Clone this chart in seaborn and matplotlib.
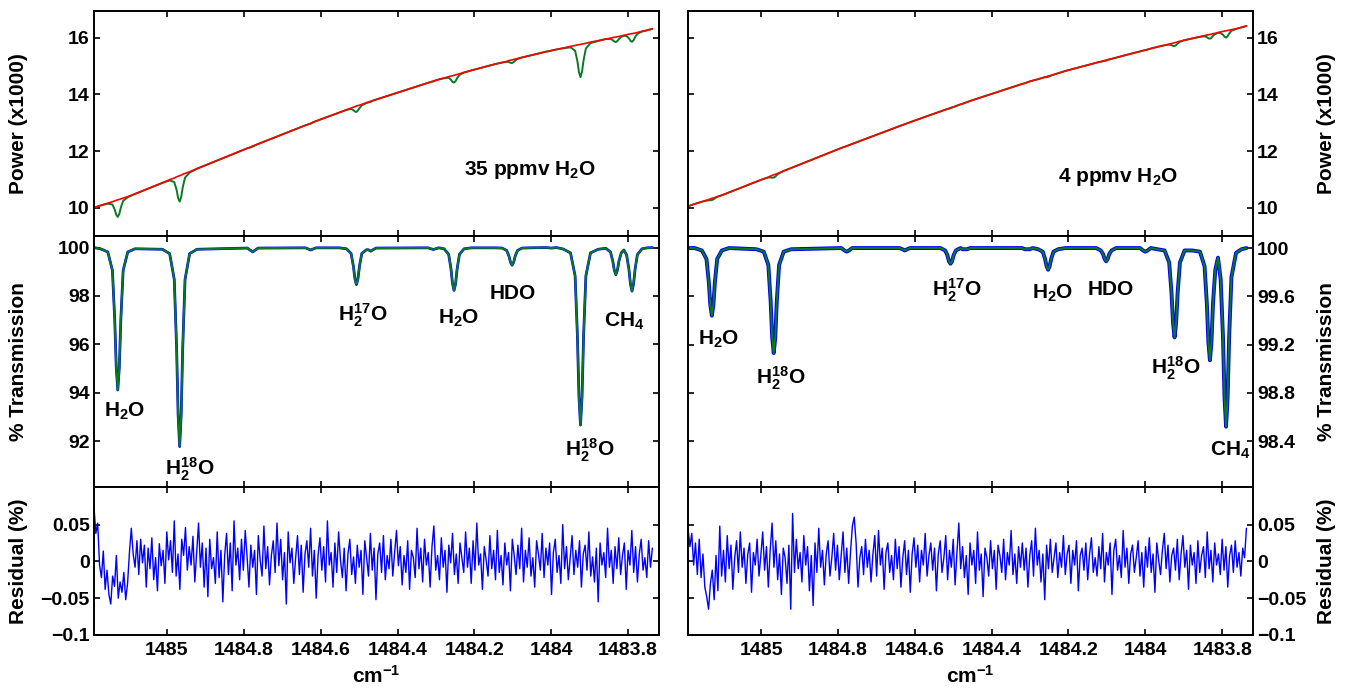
import numpy as np
import pandas as pd
import seaborn as sns
import matplotlib.pyplot as plt

sns.set_theme(style="ticks")
plt.rcParams["font.family"] = ["Liberation Sans", "DejaVu Sans"]
plt.rcParams["font.weight"] = "bold"
plt.rcParams["axes.labelweight"] = "bold"
plt.rcParams["mathtext.default"] = "regular"
for key in ["axes.edgecolor", "xtick.color", "ytick.color", "text.color", "axes.labelcolor"]:
    plt.rcParams[key] = "black"

# wavenumber of the fit points (cm-1), same for both samples
wn = [1485.190, 1485.173,
      1485.154, 1485.142, 1485.136, 1485.132, 1485.128, 1485.124, 1485.120, 1485.114, 1485.102, 1485.083,
      1485.012, 1484.993, 1484.981, 1484.975, 1484.971, 1484.967, 1484.963, 1484.959, 1484.953, 1484.941, 1484.922,
      1484.791, 1484.783, 1484.777, 1484.771, 1484.763,
      1484.640, 1484.632, 1484.626, 1484.620, 1484.612,
      1484.552, 1484.533, 1484.521, 1484.515, 1484.511, 1484.507, 1484.503, 1484.499, 1484.493, 1484.481,
      1484.476, 1484.470, 1484.464, 1484.456,
      1484.321, 1484.313, 1484.307, 1484.301, 1484.293,
      1484.279, 1484.267, 1484.261, 1484.257, 1484.253, 1484.249, 1484.245, 1484.239, 1484.227, 1484.208,
      1484.147, 1484.128, 1484.116, 1484.110, 1484.106, 1484.102, 1484.098, 1484.094, 1484.088, 1484.076, 1484.057,
      1484.014, 1484.006, 1484.000, 1483.994, 1483.986,
      1483.969, 1483.950, 1483.938, 1483.932, 1483.928, 1483.924, 1483.920, 1483.916, 1483.910, 1483.898, 1483.878,
      1483.858, 1483.846, 1483.840, 1483.836, 1483.832, 1483.828, 1483.824, 1483.818,
      1483.811,
      1483.804, 1483.798, 1483.794, 1483.790, 1483.786, 1483.782, 1483.776, 1483.764, 1483.750,
      1483.737]

# fitted transmission (%)
trans_35 = [100.00, 99.95,
            99.82, 99.06, 97.05, 95.05, 94.11, 95.05, 97.05, 99.06, 99.82, 99.95,
            99.93, 99.75, 98.68, 95.88, 93.09, 91.77, 93.09, 95.88, 98.68, 99.75, 99.93,
            99.98, 99.89, 99.82, 99.89, 99.98,
            99.99, 99.94, 99.90, 99.94, 99.99,
            99.99, 99.95, 99.76, 99.24, 98.72, 98.47, 98.72, 99.24, 99.76, 99.91,
            99.91, 99.85, 99.91, 99.98,
            99.99, 99.95, 99.92, 99.95, 99.99,
            99.95, 99.72, 99.12, 98.51, 98.23, 98.51, 99.12, 99.72, 99.95, 99.99,
            99.99, 99.98, 99.88, 99.64, 99.39, 99.27, 99.39, 99.64, 99.88, 99.98, 99.99,
            100.00, 99.99, 99.98, 99.99, 100.00,
            99.94, 99.78, 98.83, 96.33, 93.83, 92.66, 93.83, 96.33, 98.83, 99.78, 99.93,
            99.97, 99.82, 99.44, 99.06, 98.88, 99.06, 99.44, 99.78,
            99.90,
            99.69, 99.10, 98.49, 98.20, 98.49, 99.10, 99.71, 99.95, 99.99,
            100.00]

trans_4 = [100.00, 100.00,
           99.98, 99.91, 99.72, 99.53, 99.44, 99.53, 99.72, 99.91, 99.98, 100.00,
           99.99, 99.97, 99.86, 99.56, 99.26, 99.13, 99.26, 99.56, 99.86, 99.97, 99.99,
           100.00, 99.98, 99.97, 99.98, 100.00,
           100.00, 99.99, 99.98, 99.99, 100.00,
           100.00, 100.00, 99.98, 99.94, 99.89, 99.87, 99.89, 99.94, 99.98, 100.00,
           99.99, 99.99, 99.99, 100.00,
           100.00, 99.99, 99.99, 99.99, 100.00,
           99.99, 99.97, 99.91, 99.85, 99.82, 99.85, 99.91, 99.97, 99.99, 100.00,
           100.00, 100.00, 99.98, 99.95, 99.91, 99.89, 99.91, 99.95, 99.98, 100.00, 100.00,
           100.00, 99.98, 99.97, 99.98, 100.00,
           99.99, 99.98, 99.88, 99.63, 99.38, 99.26, 99.38, 99.63, 99.88, 99.98, 99.98,
           99.97, 99.85, 99.54, 99.22, 99.07, 99.22, 99.54, 99.82,
           99.92,
           99.74, 99.26, 98.76, 98.52, 98.76, 99.26, 99.76, 99.96, 99.99,
           100.00]

# baseline laser power (x1000)
power_35 = [10.00, 10.08,
            10.16, 10.21, 10.24, 10.26, 10.28, 10.29, 10.31, 10.34, 10.39, 10.49,
            10.88, 10.99, 11.05, 11.09, 11.11, 11.13, 11.15, 11.18, 11.21, 11.27, 11.38,
            12.10, 12.14, 12.18, 12.21, 12.25,
            12.91, 12.95, 12.98, 13.02, 13.06,
            13.36, 13.46, 13.52, 13.55, 13.57, 13.59, 13.61, 13.62, 13.65, 13.71,
            13.73, 13.76, 13.79, 13.82,
            14.41, 14.45, 14.47, 14.50, 14.53,
            14.58, 14.63, 14.65, 14.66, 14.68, 14.69, 14.71, 14.73, 14.78, 14.85,
            15.07, 15.13, 15.17, 15.20, 15.21, 15.22, 15.24, 15.25, 15.27, 15.31, 15.37,
            15.51, 15.53, 15.55, 15.57, 15.59,
            15.64, 15.70, 15.73, 15.75, 15.76, 15.77, 15.78, 15.79, 15.81, 15.85, 15.90,
            15.96, 15.99, 16.01, 16.02, 16.03, 16.04, 16.05, 16.07,
            16.09,
            16.11, 16.13, 16.14, 16.15, 16.16, 16.17, 16.19, 16.23, 16.27,
            16.32]

power_4 = [10.05, 10.13,
           10.21, 10.26, 10.29, 10.31, 10.33, 10.34, 10.36, 10.39, 10.44, 10.54,
           10.92, 11.02, 11.08, 11.12, 11.14, 11.16, 11.18, 11.20, 11.23, 11.30, 11.40,
           12.11, 12.15, 12.18, 12.21, 12.25,
           12.88, 12.92, 12.95, 12.98, 13.02,
           13.31, 13.40, 13.46, 13.49, 13.51, 13.53, 13.55, 13.56, 13.59, 13.65,
           13.67, 13.70, 13.73, 13.77,
           14.37, 14.40, 14.43, 14.46, 14.49,
           14.54, 14.59, 14.62, 14.63, 14.65, 14.66, 14.68, 14.70, 14.75, 14.83,
           15.05, 15.12, 15.16, 15.18, 15.20, 15.21, 15.23, 15.24, 15.26, 15.30, 15.37,
           15.52, 15.55, 15.57, 15.59, 15.62,
           15.68, 15.74, 15.78, 15.80, 15.81, 15.83, 15.84, 15.86, 15.88, 15.92, 15.98,
           16.04, 16.08, 16.10, 16.11, 16.12, 16.13, 16.15, 16.16,
           16.19,
           16.21, 16.23, 16.24, 16.25, 16.26, 16.27, 16.29, 16.32, 16.37,
           16.42]

# fit residual, in units of 0.001 %
res_35 = [75, 38, 52, -5, -22, 14, -38, -12, -45, -58, -20, -34, 8, -50, -28, -42, -15, -52, -30, 12,
          45, 10, -8, 28, -18, 30, -2, 22, -35, 18, -10, 32, -25, 5, -40, 24, -6, 15, -30, 40,
          2, 28, -15, 55, -20, 10, -38, 30, 8, 46, -12, 20, -5, 34, -28, 12, 52, -8, 25, -35,
          18, -48, 30, -10, 5, -30, 40, -22, 15, -55, 8, 38, -18, 25, -40, 55, -5, 18, -25, 30,
          -12, 42, 6, -35, 22, -8, 15, -45, 35, 2, -20, 48, -10, 20, -32, 8, 28, -15, 52, -6,
          30, -25, 12, -58, 40, -2, 18, -30, 5, 35, -18, 22, -42, 10, 28, -8, 45, -20, 15, -50,
          8, 32, -12, 20, -28, 55, -5, 12, -35, 25, -15, 40, 2, -22, 18, -40, 10, 30, -18, 6,
          -30, 22, -8, 15, -45, 28, 5, -20, 38, -12, 18, -52, 10, 25, -15, 35, -25, 8, -10, 30,
          -20, 12, 42, -6, 20, -32, 8, -15, 28, -38, 15, 5, -22, 45, -10, 18, -28, 30, -5, 12,
          -35, 20, 48, -12, 8, -25, 32, -8, 15, -42, 22, -2, 38, -18, 10, -30, 25, 5, -15, 40,
          -8, 18, -30, 28, -12, 52, -5, 10, -38, 20, 2, -20, 35, -10, 15, -25, 42, -15, 8, -32,
          25, -5, 12, -40, 30, 8, -18, 22, -10, 45, -28, 15, -8, 32, -20, 5, -35, 28, 10, -12,
          38, -22, 18, -5, 25, -45, 12, 30, -15, 8, -30, 50, -10, 20, -25, 5, 35, -18, 15, -8,
          28, -35, 10, 22, -12, 40, -20, 6, -28, 18, -55, 25, -5, 12, -22, 45, -8, 15, -30, 20,
          -10, 32, -18, 8, 25, -38, 15, -5, 42, -15, 20, -28, 10, 30, -12, 5, -22, 28, -8, 18]

res_4 = [45, 20, 38, -5, 25, -18, 30, -22, 10, -35, -48, -65, -30, -12, -52, 8, -40, 48, -20, 15,
         -28, 35, -10, 22, -38, 5, 28, -15, 40, -8, 18, -30, 10, 25, -42, 12, -5, 30, -20, 8,
         40, -12, 20, -35, 15, 52, -8, 28, -25, 10, -45, 18, 5, -30, 22, -65, 65, -15, 30, -10,
         12, -28, 35, -5, 20, -40, 8, -60, 25, -15, 45, -8, 15, -32, 10, 28, -20, 5, 38, -12,
         22, -25, 8, 40, -15, 18, -30, 12, 48, 60, 25, -35, 5, 20, -18, 30, -8, 15, -28, 10,
         35, -20, 42, -5, 18, -38, 12, 25, -15, 8, -25, 30, -10, 20, -35, 5, 28, -18, 15, -42,
         10, 32, -8, 22, -28, 15, -5, 38, -20, 8, 25, -12, 18, -40, 10, 28, -15, 5, 35, -25,
         15, -8, 30, -32, 12, 52, -10, 20, -22, 8, -45, 25, -5, 15, -30, 40, -12, 10, -48, 18,
         5, -20, 28, -10, 15, -38, 22, 8, -15, 30, -25, 12, -5, 42, -18, 10, -30, 20, -8, 25,
         -12, 18, -35, 8, 28, -20, 45, -5, 15, -28, 10, -52, 22, -10, 30, -15, 5, 25, -22, 12,
         -8, 35, -18, 10, 22, -30, 15, -5, 28, -40, 8, 18, -12, 25, -25, 10, 32, -15, 5, -20,
         20, -10, 38, -28, 12, -5, 25, -45, 15, 30, -12, 8, -22, 42, -8, 18, -30, 10, 22, -15,
         5, 28, -20, 12, -35, 20, -8, 32, -15, 10, -42, 25, 2, -18, 15, 38, -10, 22, -28, 8,
         18, -12, 30, -25, 10, 35, -8, 15, -38, 22, -5, 12, -30, 28, -15, 8, 20, -22, 40, -10,
         15, -28, 25, -5, 10, -18, 30, -12, 20, -35, 8, 22, -15, 28, -8, 12, -20, 18, 5, 45]

# line labels: (text, wavenumber, value)
labels_35 = [("H$_2$O", 1485.11, 93.0), ("H$_2^{18}$O", 1484.94, 90.6),
             ("H$_2^{17}$O", 1484.49, 96.94), ("H$_2$O", 1484.24, 96.84),
             ("HDO", 1484.10, 97.87), ("H$_2^{18}$O", 1483.90, 91.35),
             ("CH$_4$", 1483.81, 96.73)]
labels_4 = [("H$_2$O", 1485.11, 99.20), ("H$_2^{18}$O", 1484.95, 98.87),
            ("H$_2^{17}$O", 1484.49, 99.60), ("H$_2$O", 1484.24, 99.58),
            ("HDO", 1484.09, 99.61), ("H$_2^{18}$O", 1483.92, 98.95),
            ("CH$_4$", 1483.78, 98.28)]

fit = pd.DataFrame({"wn": wn, "trans_35": trans_35, "trans_4": trans_4,
                    "power_35": power_35, "power_4": power_4})
for tag in ["35", "4"]:
    fit["power_fit_" + tag] = fit["power_" + tag] * fit["trans_" + tag] / 100

res = pd.DataFrame({"wn": np.linspace(1485.19, 1483.737, len(res_35)),
                    "res_35": np.array(res_35) / 1000, "res_4": np.array(res_4) / 1000})

xticks = [1485, 1484.8, 1484.6, 1484.4, 1484.2, 1484, 1483.8]
xticklabels = ["1485", "1484.8", "1484.6", "1484.4", "1484.2", "1484", "1483.8"]

panels = {
    "35": dict(mid_lim=(90.1, 100.48), mid_ticks=[92, 94, 96, 98, 100],
               mid_labels=["92", "94", "96", "98", "100"], labels=labels_35,
               note="35 ppmv H$_2$O", note_xy=(1484.055, 11.16), blue_lw=2.0),
    "4": dict(mid_lim=(98.02, 100.1), mid_ticks=[98.4, 98.8, 99.2, 99.6, 100],
              mid_labels=["98.4", "98.8", "99.2", "99.6", "100"], labels=labels_4,
              note="4 ppmv H$_2$O", note_xy=(1484.07, 10.9), blue_lw=2.8),
}

green = "#0a7a22"
fig = plt.figure(figsize=(13.48, 6.89), dpi=100)
col_left = [0.0697, 0.5104]
col_w = 0.4191
rows = [(0.6575, 0.3266), (0.2932, 0.3643), (0.0784, 0.2148)]

for c, tag in enumerate(["35", "4"]):
    p = panels[tag]
    ax_pow, ax_tr, ax_res = [fig.add_axes([col_left[c], b, col_w, h]) for b, h in rows]

    # power
    sns.lineplot(data=fit, x="wn", y="power_fit_" + tag, ax=ax_pow, color=green, lw=1.4, sort=False)
    sns.lineplot(data=fit, x="wn", y="power_" + tag, ax=ax_pow, color="red", lw=1.2, sort=False)
    ax_pow.set_ylim(9.0, 16.95)
    ax_pow.set_yticks([10, 12, 14, 16])
    ax_pow.set_yticklabels(["10", "12", "14", "16"])
    ax_pow.text(*p["note_xy"], p["note"], fontsize=15, ha="center", va="baseline")

    # transmission: measured (blue) under the fit (green)
    sns.lineplot(data=fit, x="wn", y="trans_" + tag, ax=ax_tr, color="blue", lw=p["blue_lw"], sort=False)
    sns.lineplot(data=fit, x="wn", y="trans_" + tag, ax=ax_tr, color=green, lw=1.4, sort=False)
    ax_tr.set_ylim(*p["mid_lim"])
    ax_tr.set_yticks(p["mid_ticks"])
    ax_tr.set_yticklabels(p["mid_labels"])
    for txt, x, y in p["labels"]:
        ax_tr.text(x, y, txt, fontsize=15, ha="center", va="baseline")

    # residual
    sns.lineplot(data=res, x="wn", y="res_" + tag, ax=ax_res, color="blue", lw=1.0, sort=False)
    ax_res.set_ylim(-0.1, 0.101)
    ax_res.set_yticks([-0.1, -0.05, 0, 0.05])
    ax_res.set_yticklabels(["\u22120.1", "\u22120.05", "0", "0.05"])

    for ax, lab in zip([ax_pow, ax_tr, ax_res], ["Power (x1000)", "% Transmission", "Residual (%)"]):
        ax.set_xlim(1485.19, 1483.72)
        ax.set_xticks(xticks)
        ax.set_xticklabels(xticklabels)
        ax.tick_params(direction="in", top=True, bottom=True, left=True, right=True,
                       length=4.5, width=1.2, labelsize=14, pad=3)
        ax.tick_params(axis="x", pad=5)
        for s in ax.spines.values():
            s.set_linewidth(1.4)
            s.set_visible(True)
        ax.set_xlabel("")
        if c == 1:
            ax.tick_params(labelleft=False, labelright=True)
            ax.yaxis.set_label_position("right")
        ax.set_ylabel(lab, fontsize=15, rotation=90)
        ax.yaxis.label.set_va("center")
        ax.yaxis.set_label_coords(1.131 if c == 1 else -0.1327, 0.5)
        if ax is not ax_res:
            ax.tick_params(labelbottom=False)

    ax_res.set_xlabel("cm$^{-1}$", fontsize=15, labelpad=4)

fig.savefig("out.png", dpi=100)
